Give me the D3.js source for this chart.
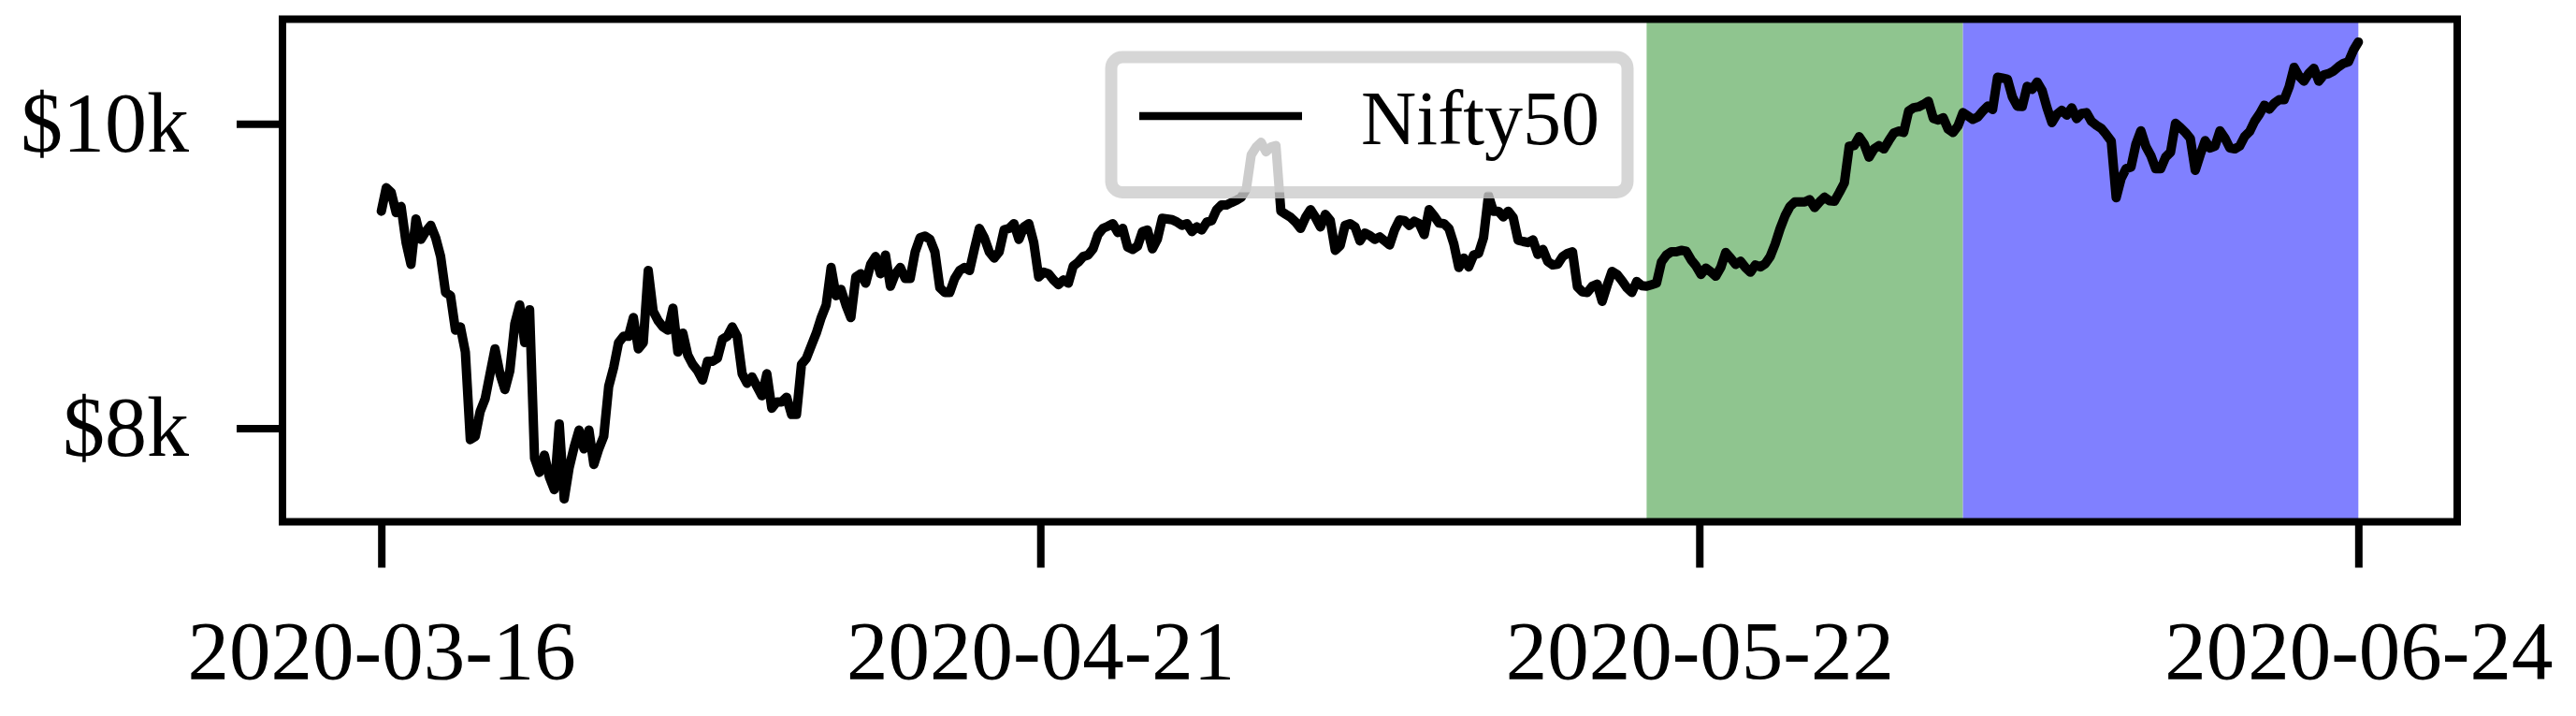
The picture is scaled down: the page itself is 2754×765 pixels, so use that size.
<!DOCTYPE html>
<html>
<head>
<meta charset="utf-8">
<script src="https://cdn.jsdelivr.net/npm/d3@7"></script>
<style>
  body { margin: 0; background: #fff; }
  svg { display: block; }
</style>
</head>
<body>
<svg id="chart"></svg>
<script>
// Nifty50 closes, x axis is just the sample index
const nifty50 = [
  9426, 9580, 9549, 9416, 9457, 9220, 9077, 9375, 9241, 9292,
  9333, 9251, 9128, 8892, 8871, 8645, 8666, 8501, 7926, 7947,
  8111, 8193, 8358, 8522, 8358, 8255, 8378, 8686, 8810, 8563,
  8779, 7803, 7711, 7824, 7680, 7597, 8029, 7536, 7741, 7875,
  7988, 7865, 7988, 7762, 7865, 7947, 8275, 8399, 8563, 8604,
  8604, 8727, 8522, 8563, 9036, 8769, 8707, 8666, 8645, 8789,
  8501, 8625, 8481, 8419, 8378, 8317, 8440, 8440, 8460, 8584,
  8604, 8666, 8604, 8358, 8296, 8337, 8275, 8214, 8358, 8132,
  8173, 8173, 8204, 8091, 8091, 8419, 8460, 8543, 8625, 8727,
  8810, 9056, 8871, 8912, 8810, 8727, 8994, 9015, 8953, 9077,
  9128,
  9015, 9138, 8933, 9015, 9056, 8984, 8984, 9159, 9251, 9262,
  9241, 9159, 8923, 8892, 8892, 8984, 9036, 9056, 9036, 9179,
  9313, 9251, 9159, 9118, 9159, 9303, 9313, 9344, 9241, 9323,
  9344, 9220, 8994, 9025, 9015, 8974, 8943, 8974, 8953, 9066,
  9091, 9128, 9138, 9179, 9272, 9313, 9327, 9344, 9286, 9313,
  9190, 9175, 9196, 9292, 9303, 9179, 9241, 9379, 9375, 9370,
  9354, 9333, 9344, 9292, 9323, 9303, 9354, 9364, 9436, 9467,
  9467, 9483, 9498, 9518, 9570, 9796, 9847, 9878, 9816, 9847,
  9857, 9426, 9405, 9385, 9354, 9313, 9385, 9436, 9385, 9323,
  9405, 9364, 9169, 9200, 9333, 9344, 9323, 9231, 9282, 9266,
  9241, 9257, 9231, 9204, 9303, 9368, 9364, 9333, 9360, 9344,
  9272, 9436, 9395, 9348, 9344, 9313, 9210, 9056, 9118, 9060,
  9138, 9149, 9251, 9529, 9426, 9426, 9389, 9426, 9385, 9235,
  9227, 9220, 9237, 9142, 9175, 9095, 9073, 9077, 9128, 9149,
  9159, 8929, 8896, 8892, 8933, 8947, 8834, 8937, 9031, 9011,
  8970, 8923, 8892, 8964, 8937, 8933, 8943, 8953, 9093, 9138,
  9159, 9159, 9169, 9163, 9107, 9066, 9011, 9052, 9027, 8999,
  9056, 9155, 9118, 9077, 9097, 9056, 9025, 9073, 9060, 9081,
  9128, 9210, 9311, 9395, 9457, 9487, 9487, 9487, 9502, 9450,
  9487, 9518, 9494, 9492, 9549, 9611, 9853, 9857, 9915, 9868,
  9781, 9835, 9857, 9835, 9889, 9939, 9952, 9943, 10083, 10105,
  10111, 10127, 10148, 10036, 10025, 10040, 9965, 9943, 9986, 10073,
  10051, 10029, 10045, 10083, 10116, 10094, 10306, 10300, 10293, 10176,
  10116, 10114, 10246, 10226, 10274, 10220, 10105, 10008, 10062, 10088,
  10057, 10105, 10034, 10068, 10073, 10016, 9990, 9969, 9930, 9887,
  9515, 9640, 9705, 9716, 9867, 9954, 9852, 9792, 9705, 9705,
  9781, 9813, 10003, 9975, 9943, 9904, 9694, 9796, 9889, 9841,
  9854, 9954, 9906, 9841, 9835, 9854, 9917, 9949, 10016, 10064,
  10122, 10096, 10135, 10159, 10159, 10243, 10371, 10313, 10280, 10332,
  10364, 10280, 10321, 10330, 10347, 10375, 10397, 10408, 10483, 10537
];

const dateTicks = ["2020-03-16", "2020-04-21", "2020-05-22", "2020-06-24"];
const priceTicks = [8000, 10000];
const seriesName = "Nifty50";

// where the validation and test parts start (index into nifty50)
const valStart = 256;
const testStart = 320;

const width = 2754, height = 765;
const plot = {left: 302, right: 2627, top: 20.5, bottom: 557.5};
const fontFamily = '"Liberation Serif", "DejaVu Serif", serif';

const svg = d3.select('#chart').attr('width', width).attr('height', height);

const n = nifty50.length;
const xPad = (n - 1) * 0.05;
const x = d3.scaleLinear()
  .domain([-xPad, n - 1 + xPad])
  .range([plot.left, plot.right]);

const [yMin, yMax] = d3.extent(nifty50);
const yPad = (yMax - yMin) * 0.05;
const y = d3.scaleLinear()
  .domain([yMin - yPad, yMax + yPad])
  .range([plot.bottom, plot.top]);

// shaded spans
const spans = [
  {from: valStart, to: testStart, color: '#8fc58f'},
  {from: testStart, to: n - 1, color: '#8080ff'}
];
svg.append('g').selectAll('rect')
  .data(spans).enter().append('rect')
  .attr('x', d => x(d.from))
  .attr('width', d => x(d.to) - x(d.from))
  .attr('y', plot.top)
  .attr('height', plot.bottom - plot.top)
  .attr('fill', d => d.color);

// price line
const line = d3.line()
  .x((d, i) => x(i))
  .y(d => y(d));

svg.append('path')
  .datum(nifty50)
  .attr('d', line)
  .attr('fill', 'none')
  .attr('stroke', 'black')
  .attr('stroke-width', 10)
  .attr('stroke-linejoin', 'round')
  .attr('stroke-linecap', 'round');

// legend
const legend = svg.append('g');
legend.append('rect')
  .attr('x', 1188).attr('y', 61)
  .attr('width', 552).attr('height', 144.5)
  .attr('rx', 12).attr('ry', 12)
  .attr('fill', 'rgba(255,255,255,0.8)')
  .attr('stroke', 'rgba(204,204,204,0.8)')
  .attr('stroke-width', 13);
legend.append('line')
  .attr('x1', 1218).attr('x2', 1392)
  .attr('y1', 124).attr('y2', 124)
  .attr('stroke', 'black')
  .attr('stroke-width', 8.5);
legend.append('text')
  .text(seriesName)
  .attr('x', 1455).attr('y', 154)
  .attr('font-family', fontFamily)
  .attr('font-size', '82px')
  .attr('fill', 'black');

// axes
const xAxis = d3.axisBottom(x)
  .tickValues(dateTicks.map((d, i) => i * (n - 1) / (dateTicks.length - 1)))
  .tickFormat((d, i) => dateTicks[i])
  .tickSize(49);

const xg = svg.append('g')
  .attr('transform', `translate(0,${plot.bottom})`)
  .call(xAxis);
xg.select('.domain').remove();
xg.selectAll('.tick line').attr('stroke', 'black').attr('stroke-width', 8);
xg.selectAll('.tick text')
  .attr('y', 167.5).attr('dy', null)
  .attr('font-family', fontFamily)
  .attr('font-size', '89px')
  .attr('fill', 'black');

const yAxis = d3.axisLeft(y)
  .tickValues(priceTicks)
  .tickFormat(d => `$${d / 1000}k`)
  .tickSize(49)
  .tickPadding(51);

const yg = svg.append('g')
  .attr('transform', `translate(${plot.left},0)`)
  .call(yAxis);
yg.select('.domain').remove();
yg.selectAll('.tick line').attr('stroke', 'black').attr('stroke-width', 8);
yg.selectAll('.tick text')
  .attr('font-family', fontFamily)
  .attr('font-size', '90px')
  .attr('fill', 'black');

// frame
svg.append('rect')
  .attr('x', plot.left).attr('y', plot.top)
  .attr('width', plot.right - plot.left)
  .attr('height', plot.bottom - plot.top)
  .attr('fill', 'none')
  .attr('stroke', 'black')
  .attr('stroke-width', 8);
</script>
</body>
</html>
